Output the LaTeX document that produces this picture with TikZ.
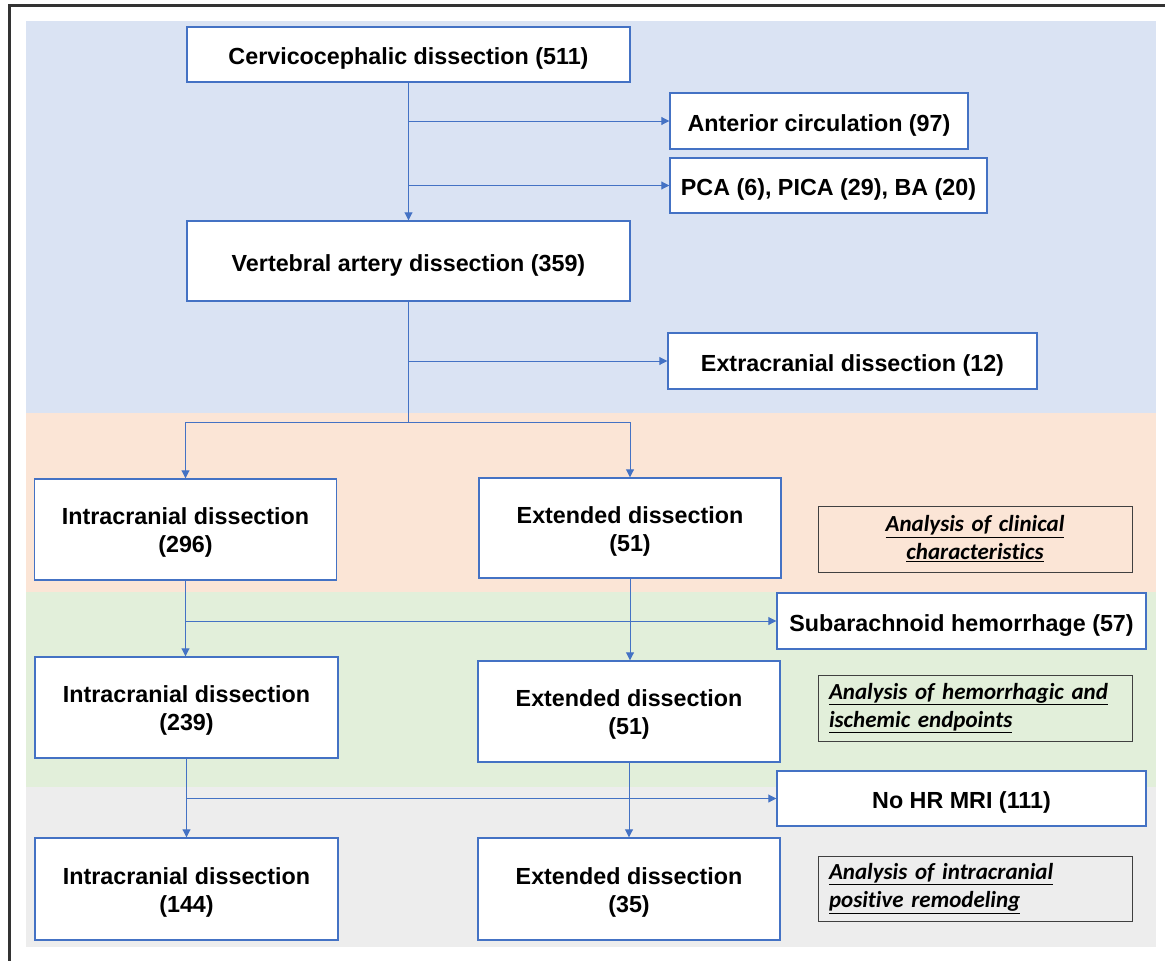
\documentclass[tikz,border=0pt]{standalone}
\usepackage{fontspec}
\setmainfont{Liberation Sans}
\newfontfamily\calib[Ligatures=NoCommon]{Carlito}
\usetikzlibrary{arrows.meta,calc}
\definecolor{lnblue}{HTML}{4472C4}
\definecolor{bandA}{HTML}{DAE3F3}
\definecolor{bandB}{HTML}{FBE5D6}
\definecolor{bandC}{HTML}{E2EFDA}
\definecolor{bandD}{HTML}{EDEDED}
\tikzset{box/.style={draw=lnblue, line width=1.4pt, fill=white, inner sep=0pt, align=center, text height=20pt, text depth=0pt, font=\bfseries\fontsize{23.3}{28}\selectfont}}
\tikzset{box2/.style={box, text height=46.4pt}}
\tikzset{note/.style={draw=black!75, line width=1pt, inner sep=0pt, text width=292pt, font=\calib\bfseries\itshape\fontsize{23}{28}\selectfont}}
\tikzset{arr/.style={draw=lnblue, line width=0.9pt, -{Triangle[length=8pt,width=8pt]}}}
\newcommand{\ul}[1]{\underline{#1}}

\begin{document}
\begin{tikzpicture}[x=1pt,y=-1pt]
		\useasboundingbox (0,0) rectangle (1165,961);
		\fill[white] (0,0) rectangle (1165,961);
		% bands
		\fill[bandA] (26,21) rectangle (1156,413);
		\fill[bandB] (26,413) rectangle (1156,592);
		\fill[bandC] (26,592) rectangle (1156,787);
		\fill[bandD] (26,787) rectangle (1156,947);
		\draw[line width=2.5pt, black!80] (9.5,5.5) rectangle (1180,980);
		
		\node[box, minimum width=443pt, minimum height=55pt] (cc) at (408.5,54.5) {Cervicocephalic dissection (511)};
		\node[box, minimum width=298pt, minimum height=56pt] (ac) at (819,121) {Anterior circulation (97)};
		\node[box, minimum width=317pt, minimum height=55pt] (pc) at (828.5,185.5) {PCA (6), PICA (29), BA (20)};
		\node[box, minimum width=443pt, minimum height=80pt] (va) at (408.5,261) {Vertebral artery dissection (359)};
		\node[box, minimum width=369pt, minimum height=56pt] (ex) at (852.5,361) {Extracranial dissection (12)};
		\coordinate (sp) at (408.5,422);
		
		\node[box2, minimum width=302pt, minimum height=101pt] (ia) at (185.5,529.5) {Intracranial dissection\\(296)};
		\node[box2, minimum width=302pt, minimum height=100pt] (ea) at (630,528) {Extended dissection\\(51)};
		\node[note, minimum width=314pt, minimum height=66pt, align=center] (na) at (975,539) {\ul{Analysis of clinical}\\\ul{characteristics}};
		
		\node[box, minimum width=369pt, minimum height=56pt] (sah) at (961.5,621) {Subarachnoid hemorrhage (57)};
		\node[box2, minimum width=303pt, minimum height=101pt] (ib) at (186.5,707.5) {Intracranial dissection\\(239)};
		\node[box2, minimum width=302pt, minimum height=101pt] (eb) at (629,711.5) {Extended dissection\\(51)};
		\node[note, minimum width=314pt, minimum height=66pt, align=left] (nb) at (975,708) {\ul{Analysis of hemorrhagic and}\\\ul{ischemic endpoints}};
		
		\node[box, minimum width=369pt, minimum height=55pt] (hr) at (961.5,798.5) {No HR MRI (111)};
		\node[box2, minimum width=303pt, minimum height=102pt] (ic) at (186.5,889) {Intracranial dissection\\(144)};
		\node[box2, minimum width=302pt, minimum height=102pt] (ec) at (629,889) {Extended dissection\\(35)};
		\node[note, minimum width=314pt, minimum height=65pt, align=left] (nc) at (975,888.5) {\ul{Analysis of intracranial}\\\ul{positive remodeling}};
		
		\draw[arr] (cc) -- (va);
		\draw[arr] (cc.south |- ac.west) -- (ac.west);
		\draw[arr] (cc.south |- pc.west) -- (pc.west);
		\draw[arr, -] (va.south) -- (sp);
		\draw[arr] (va.south |- ex.west) -- (ex.west);
		\draw[arr] (sp) -| (ia.north);
		\draw[arr] (sp) -| (ea.north);
		
		\draw[arr] (ia.south) -- (ia.south |- ib.north);
		\draw[arr] (ia.south |- sah.west) -- (sah.west);
		\draw[arr] (ea.south) -- (ea.south |- eb.north);
		\draw[arr] (ib.south) -- (ib.south |- ic.north);
		\draw[arr] (ib.south |- hr.west) -- (hr.west);
		\draw[arr] (eb.south) -- (eb.south |- ec.north);
		\end{tikzpicture}
\end{document}
